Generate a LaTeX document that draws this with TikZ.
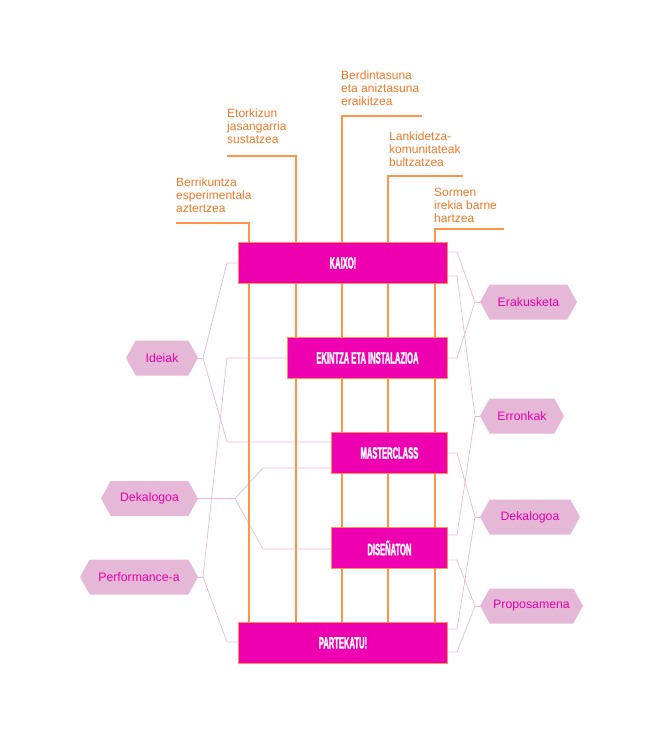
\documentclass[tikz,border=0pt]{standalone}
\usepackage{fontspec}
\setmainfont{Liberation Sans}
\newfontfamily\boxfont{Liberation Sans Bold}[FakeStretch=0.46,FakeBold=1.5]
\usetikzlibrary{shapes.symbols}
\definecolor{mag}{HTML}{EE00B0}
\definecolor{org}{HTML}{FF9448}
\definecolor{orgtext}{HTML}{F07828}
\definecolor{pinkfill}{HTML}{E6B8D8}
\definecolor{pinkline}{HTML}{E8B8DC}
\definecolor{hextext}{HTML}{E600A8}
\begin{document}
\begin{tikzpicture}[x=1pt,y=-1pt,
  stage/.style={draw=org, line width=0.9pt, fill=mag, text=white,
    font=\boxfont\fontsize{16.5}{16.5}\selectfont, minimum height=41pt,
    inner sep=0pt, anchor=north west},
  hex/.style={shape=signal, signal to=east and west, signal pointer angle=122,
    fill=pinkfill, text=hextext, font=\fontsize{12.3}{14}\selectfont,
    minimum height=35pt, inner sep=0pt},
  goal/.style={text=orgtext, font=\fontsize{12}{13}\selectfont, align=left,
    anchor=north west, inner sep=0pt},
  gline/.style={draw=org, line width=1.1pt},
  link/.style={draw=pinkline, line width=0.7pt},
]
\useasboundingbox (0,0) rectangle (666,740);

% hexagons
\node[hex, minimum width=72pt]  (ideiak) at (162,358) {Ideiak};
\node[hex, minimum width=97pt]  (dekaL)  at (149.5,498.5) {Dekalogoa};
\node[hex, minimum width=118pt] (perf)   at (139,577) {Performance-a};
\node[hex, minimum width=97pt]  (erak)   at (528.5,302) {Erakusketa};
\node[hex, minimum width=84pt]  (erron)  at (522,416) {Erronkak};
\node[hex, minimum width=100pt] (dekaR)  at (530,517) {Dekalogoa};
\node[hex, minimum width=103pt] (prop)   at (531.5,606) {Proposamena};

% join points
\coordinate (jI) at (203,358);
\coordinate (jP) at (203,577);
\coordinate (jD) at (235,498.5);
\coordinate (jE) at (475,302);
\coordinate (jR) at (475,416);
\coordinate (jK) at (475,517);
\coordinate (jQ) at (475,606);

% stage box frames (for anchors; drawn on top later)
\path (238,242) node[stage, minimum width=209pt, draw=none, fill=none] (kaixo) {};
\path (287,337) node[stage, minimum width=160pt, draw=none, fill=none] (ekintza) {};
\path (331,432) node[stage, minimum width=116pt, draw=none, fill=none] (master) {};
\path (331,527) node[stage, minimum width=116pt, draw=none, fill=none] (disen) {};
\path (238,622) node[stage, minimum width=209pt, draw=none, fill=none] (parte) {};

% pink links
\draw[link] (ideiak.east) -- (jI);
\draw[link] (jI) -- (227,263) -- (kaixo.west |- 0,263);
\draw[link] (jI) -- (227,442) -- (master.west |- 0,442);
\draw[link] (perf.east) -- (jP);
\draw[link] (jP) -- (227,358) -- (ekintza.west |- 0,358);
\draw[link] (jP) -- (227,642) -- (parte.west |- 0,642);
\draw[link] (dekaL.east) -- (jD);
\draw[link] (jD) -- (263,468) -- (master.west |- 0,468);
\draw[link] (jD) -- (263,549) -- (disen.west |- 0,549);

\draw[link] (erak.west) -- (jE);
\draw[link] (jE) -- (457,252) -- (kaixo.east |- 0,252);
\draw[link] (jE) -- (457,358) -- (ekintza.east |- 0,358);
\draw[link] (erron.west) -- (jR);
\draw[link] (jR) -- (457,276) -- (kaixo.east |- 0,276);
\draw[link] (jR) -- (457,535) -- (disen.east |- 0,535);
\draw[link] (dekaR.west) -- (jK);
\draw[link] (jK) -- (457,453) -- (master.east |- 0,453);
\draw[link] (jK) -- (457,629) -- (parte.east |- 0,629);
\draw[link] (prop.west) -- (jQ);
\draw[link] (jQ) -- (457,560) -- (disen.east |- 0,560);
\draw[link] (jQ) -- (457,652) -- (parte.east |- 0,652);

% goals
\node[goal] (g1) at (176,178) {Berrikuntza\\esperimentala\\aztertzea};
\node[goal] (g2) at (227,109) {Etorkizun\\jasangarria\\sustatzea};
\node[goal] (g3) at (341,71)  {Berdintasuna\\eta aniztasuna\\eraikitzea};
\node[goal] (g4) at (389,132) {Lankidetza-\\komunitateak\\bultzatzea};
\node[goal] (g5) at (434,188) {Sormen\\irekia barne\\hartzea};

\draw[gline] (176,223) -- (249,223) -- (parte.north -| 249,0);
\draw[gline] (227,156) -- (296,156) -- (parte.north -| 296,0);
\draw[gline] (422,116) -- (342,116) -- (parte.north -| 342,0);
\draw[gline] (463,176) -- (388,176) -- (parte.north -| 388,0);
\draw[gline] (504,229) -- (435,229) -- (parte.north -| 435,0);

% stage boxes on top
\node[stage, minimum width=209pt] at (238,242) {KAIXO!};
\node[stage, minimum width=160pt] at (287,337) {EKINTZA ETA INSTALAZIOA};
\node[stage, minimum width=116pt] at (331,432) {MASTERCLASS};
\node[stage, minimum width=116pt] at (331,527) {DISEÑATON};
\node[stage, minimum width=209pt] at (238,622) {PARTEKATU!};
\end{tikzpicture}
\end{document}
